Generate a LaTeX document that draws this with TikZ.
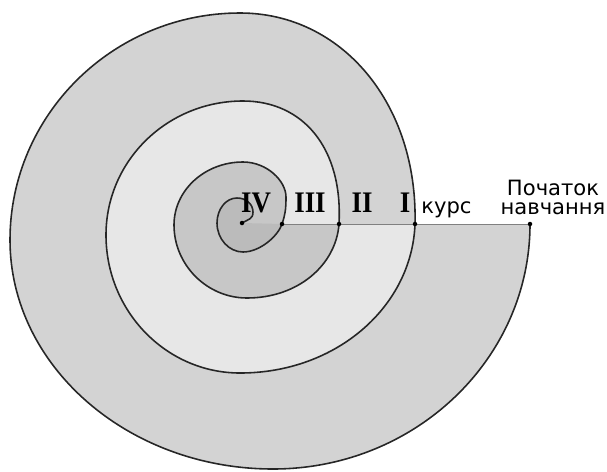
\documentclass[tikz,border=0pt]{standalone}
\usepackage{fontspec}
\setmainfont{Liberation Serif}
\newfontfamily\labelfont{DejaVu Sans}
\usepackage{xcolor}
\usepackage{tikz}
\usetikzlibrary{positioning, calc}

\definecolor{ringOuter}{HTML}{D3D3D3}
\definecolor{ringMiddle}{HTML}{E7E7E7}
\definecolor{ringInner}{HTML}{C7C7C7}
\definecolor{ringCore}{HTML}{BBBBBB}

% one macro per turn of the spiral
\newcommand{\turnone}{(R0) .. controls +(0,-135) and +(142,0) .. (B0) .. controls +(-145,0) and +(0,-126) .. (L0) .. controls +(0,125) and +(-127,0) .. (T0) .. controls +(102,0) and +(3,120) .. (R1)}
\newcommand{\turntwo}{(R1) .. controls +(-3,-82) and +(97,0) .. (B1) .. controls +(-74,0) and +(0,-76) .. (L1) .. controls +(0,74) and +(-76,0) .. (T1) .. controls +(60,0) and +(4,76) .. (R2)}
\newcommand{\turnthree}{(R2) .. controls +(-3,-41) and +(51,0) .. (B2) .. controls +(-40,0) and +(0,-40) .. (L2) .. controls +(0,35) and +(-38,0) .. (T2) .. controls +(24,0) and +(0,16) .. (E2) .. controls +(0,-13) and +(3,9) .. (R3)}
\newcommand{\turnfour}{(R3) .. controls +(-4,-12) and +(17,0) .. (B3) .. controls +(-14,0) and +(0,-16) .. (L3) .. controls +(0,14) and +(-11,0) .. (T3) .. controls +(9,0) and +(0,8) .. (C3) .. controls +(0,-7) and +(7,4) .. (C)}
\newcommand{\numtext}[1]{\scalebox{0.9}[1]{#1}}

\begin{document}
\begin{tikzpicture}[
            x=0.02cm, y=0.02cm,
            spiral/.style={draw=black!85, line width=0.9pt, line join=round},
            axisline/.style={draw=black!50, line width=0.5pt},
            dot/.style={circle, fill=black, inner sep=0pt, minimum size=0.09cm},
            numeral/.style={font=\fontsize{17}{17}\selectfont\bfseries, anchor=base, inner sep=0pt},
            caption/.style={font=\labelfont\fontsize{12}{10.8}\selectfont, align=center, inner sep=0pt}
        ]

\useasboundingbox (0,0) rectangle (607,471);

% Points of the spiral
            \coordinate (R0) at (530,247);
            \coordinate (B0) at (273,2);
            \coordinate (L0) at (10,231);
            \coordinate (T0) at (240,458);
            \coordinate (R1) at (415,247);
            \coordinate (B1) at (240,98);
            \coordinate (L1) at (106,236);
            \coordinate (T1) at (243,370);
            \coordinate (R2) at (339,247);
            \coordinate (B2) at (247,173);
            \coordinate (L2) at (174,246);
            \coordinate (T2) at (243,309);
            \coordinate (E2) at (286,274);
            \coordinate (R3) at (282,247);
            \coordinate (B3) at (243,219);
            \coordinate (L3) at (217,248);
            \coordinate (T3) at (237,273);
            \coordinate (C3) at (253,259);
            \coordinate (C) at (242,248);

% Bands
            \fill[ringOuter] \turnone -- cycle;
            \fill[ringMiddle] \turntwo -- cycle;
            \fill[ringInner] \turnthree -- cycle;
            \fill[ringCore] \turnfour -- cycle;

% Lines
            \draw[axisline] (R3) -- (R0);
            \draw[spiral] \turnone;
            \draw[spiral] \turntwo;
            \draw[spiral] \turnthree;
            \draw[spiral] \turnfour;

% Dots
            \node[dot] (d0) at (R0) {};
            \node[dot] (d1) at (R1) {};
            \node[dot] (d2) at (R2) {};
            \node[dot] (d3) at (R3) {};
            \node[dot] (d4) at (C) {};

% Labels
            \node[numeral] (year4) at (256,259) {\numtext{IV}};
            \node[numeral] (year3) at (310,259) {\numtext{III}};
            \node[numeral] (year2) at (362,259) {\numtext{II}};
            \node[numeral] (year1) at (405,259) {\numtext{I}};
            \node[caption, anchor=base west] (course) at (421,258) {курс};
            \node[caption, anchor=north] (start) at (553,291) {Початок\\навчання};

        \end{tikzpicture}
\end{document}
